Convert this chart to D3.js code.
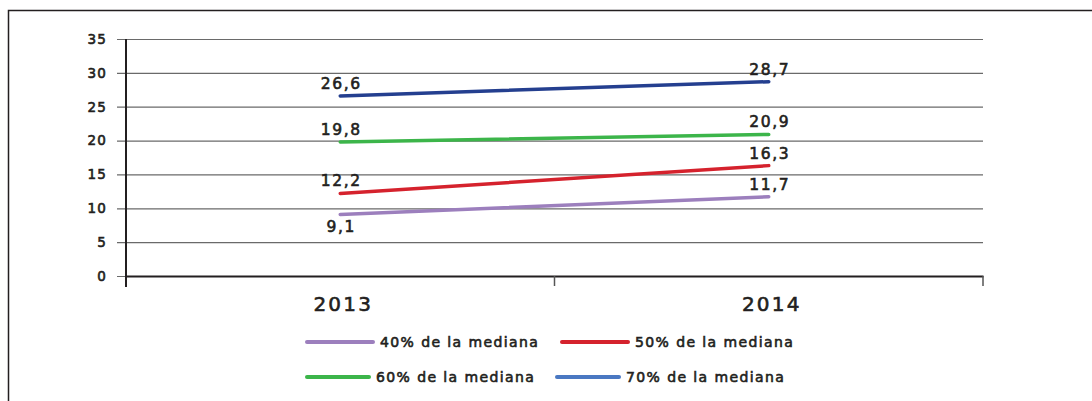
<!DOCTYPE html>
<html>
<head>
<meta charset="utf-8">
<script src="https://cdn.jsdelivr.net/npm/d3@7"></script>
<style>
    body { margin: 0; background: #fff; }
    svg text { font-family: "DejaVu Sans", sans-serif; fill: #231f20; stroke: #231f20; stroke-width: 0.6px; }
</style>
</head>
<body>
<div id="chart"></div>
<script>
// Data
const years = ['2013', '2014'];
const seriesNames = ['40% de la mediana', '50% de la mediana', '60% de la mediana', '70% de la mediana'];
const values40 = [9.1, 11.7];
const values50 = [12.2, 16.3];
const values60 = [19.8, 20.9];
const values70 = [26.6, 28.7];
const yTicks = [0, 5, 10, 15, 20, 25, 30, 35];

const allValues = [values40, values50, values60, values70];
const lineColors = ['#9c7fbd', '#d5222d', '#3cb54a', '#243f8f'];
const legendColors = ['#9c7fbd', '#d5222d', '#3cb54a', '#4a78c2'];
// where the value label sits for each point
const labelSide = [['below', 'above'], ['above', 'above'], ['above', 'above'], ['above', 'above']];

const width = 1092;
const height = 401;
const margin = { left: 126, right: 109, top: 39, bottom: 125 };

const svg = d3.select('#chart')
    .append('svg')
    .attr('width', width)
    .attr('height', height);

// Frame
svg.append('path')
    .attr('d', 'M8.5,' + height + 'V10.5H' + width)
    .attr('fill', 'none')
    .attr('stroke', '#231f20')
    .attr('stroke-width', 1.5);

// Scales
const x = d3.scaleBand()
    .domain(years)
    .range([margin.left, width - margin.right]);

const y = d3.scaleLinear()
    .domain([0, 35])
    .range([height - margin.bottom, margin.top]);

// Gridlines and y labels
const yAxis = svg.append('g')
    .attr('transform', 'translate(' + margin.left + ',0)')
    .call(d3.axisLeft(y)
        .tickValues(yTicks)
        .tickSize(-(width - margin.right - margin.left))
        .tickPadding(19)
        .tickSizeOuter(0));
yAxis.select('.domain').remove();
yAxis.selectAll('.tick line')
    .attr('x1', -9)
    .attr('stroke', '#6a6a6a')
    .attr('stroke-width', 1.2);
yAxis.selectAll('.tick text')
    .attr('font-size', 13.5)
    .style('letter-spacing', '1.2px');

// y axis line
svg.append('line')
    .attr('x1', margin.left).attr('x2', margin.left)
    .attr('y1', y(35)).attr('y2', y(0) + 11)
    .attr('stroke', '#231f20')
    .attr('stroke-width', 2);

// x axis
const xAxis = svg.append('g')
    .attr('transform', 'translate(0,' + y(0) + ')')
    .call(d3.axisBottom(x).tickSize(0).tickPadding(21));
xAxis.select('.domain')
    .attr('stroke', '#231f20')
    .attr('stroke-width', 2);
xAxis.selectAll('.tick text')
    .attr('font-size', 20)
    .attr('dx', 3)
    .style('letter-spacing', '2.2px');

// tick marks between categories
const boundaries = [x.range()[0] + x.bandwidth(), x.range()[1]];
svg.selectAll('.xsep')
    .data(boundaries)
    .join('line')
    .attr('x1', d => d).attr('x2', d => d)
    .attr('y1', y(0)).attr('y2', y(0) + 10)
    .attr('stroke', '#555')
    .attr('stroke-width', 1.5);

// Lines
const line = d3.line()
    .x((d, i) => x(years[i]) + x.bandwidth() / 2)
    .y(d => y(d));

svg.selectAll('.series')
    .data(allValues)
    .join('path')
    .attr('d', line)
    .attr('fill', 'none')
    .attr('stroke', (d, i) => lineColors[i])
    .attr('stroke-width', 3.5)
    .attr('stroke-linecap', 'round');

// Value labels
allValues.forEach((vals, s) => {
    svg.selectAll('.lbl' + s)
        .data(vals)
        .join('text')
        .attr('x', (d, i) => x(years[i]) + x.bandwidth() / 2 + 1)
        .attr('y', (d, i) => y(d) + (labelSide[s][i] === 'below' ? 18 : -7))
        .attr('text-anchor', 'middle')
        .attr('font-size', 15.5)
        .style('letter-spacing', '1.6px')
        .text(d => d.toFixed(1).replace('.', ','));
});

// Legend
const legendRows = [342, 377];
const legendX = [[307, 562], [307, 557]];
const legendItems = seriesNames.map((name, i) => ({
    name: name,
    color: legendColors[i],
    row: Math.floor(i / 2),
    col: i % 2
}));

const legend = svg.selectAll('.legend')
    .data(legendItems)
    .join('g')
    .attr('transform', d => 'translate(' + legendX[d.row][d.col] + ',' + legendRows[d.row] + ')');

legend.append('line')
    .attr('x1', 0).attr('x2', d => d.row === 0 ? 66 : 62)
    .attr('stroke', d => d.color)
    .attr('stroke-width', 4)
    .attr('stroke-linecap', 'round');

legend.append('text')
    .attr('x', d => d.row === 0 ? 73 : 69)
    .attr('y', 5)
    .attr('font-size', 14)
    .style('letter-spacing', '1.4px')
    .text(d => d.name);
</script>
</body>
</html>
